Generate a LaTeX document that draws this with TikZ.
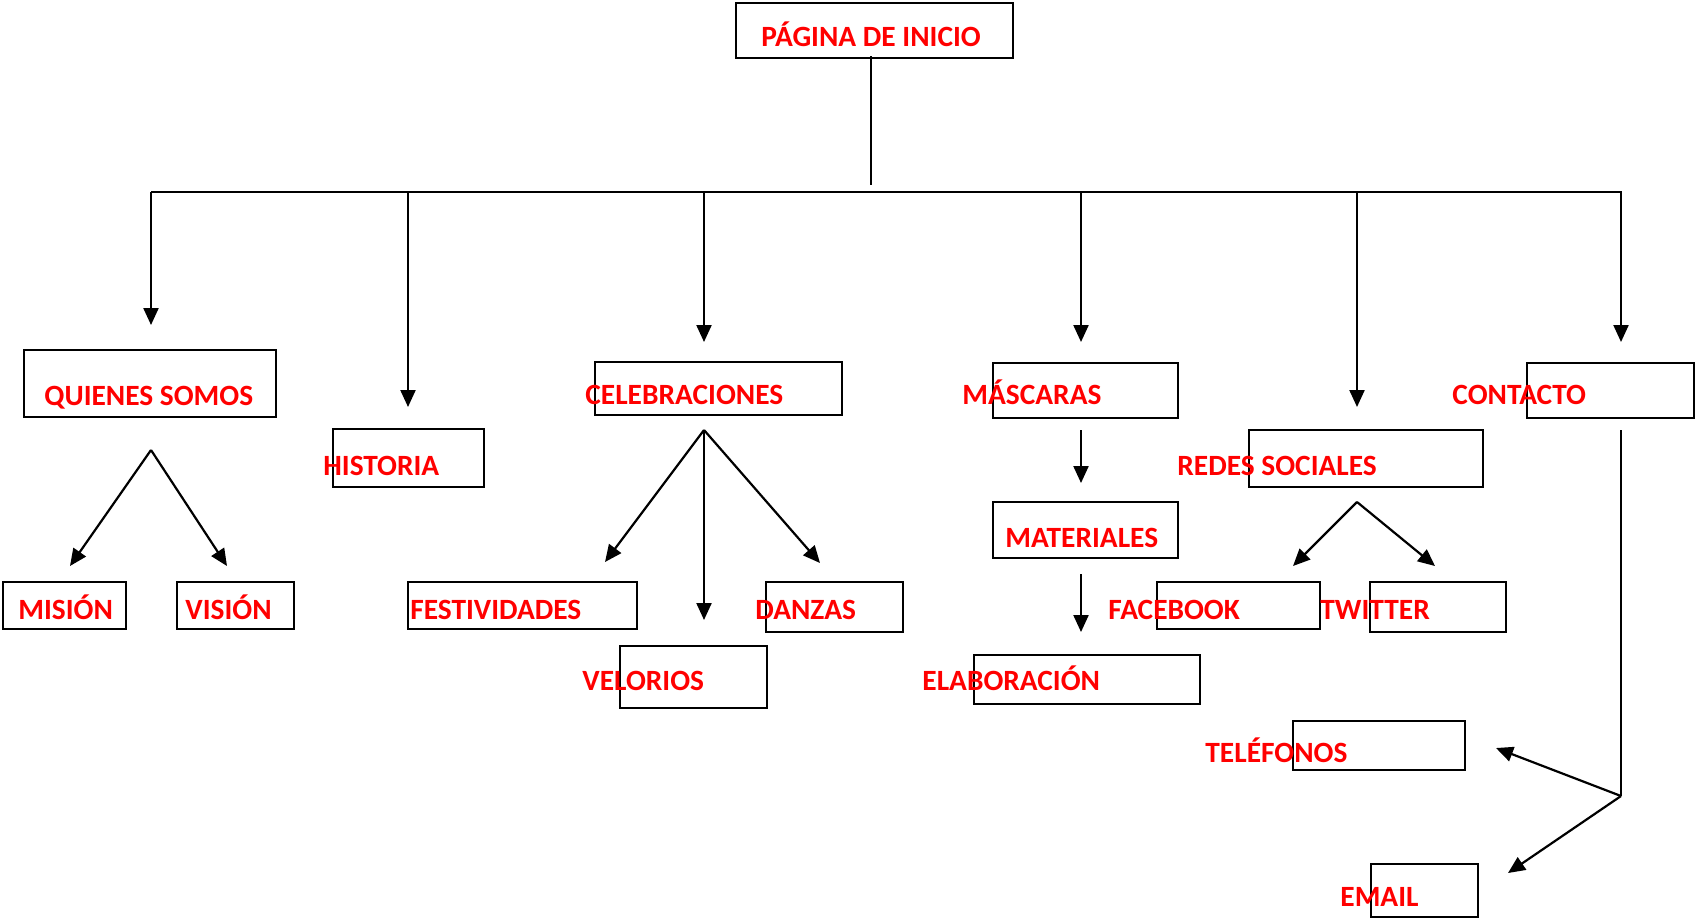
\documentclass[tikz,border=0pt]{standalone}
\usepackage{fontspec}
\setmainfont{Carlito}
\usetikzlibrary{arrows.meta,fit}
\definecolor{lblred}{RGB}{255,0,0}
\begin{document}
\begin{tikzpicture}[x=0.5pt,y=-0.5pt,
  box/.style={draw, line width=1.1pt, inner sep=0pt},
  lbl/.style={text=lblred, font=\fontsize{14.7pt}{16pt}\selectfont\bfseries, inner sep=0pt, anchor=base west},
  conn/.style={line width=1.1pt},
  arr/.style={line width=1.1pt, -{Triangle[length=8.5pt,width=7.5pt]}}]
\useasboundingbox (0,0) rectangle (1695,918);
% boxes
\node[box, fit={(736,3) (1013,58)}] (bInicio) {};
\node[box, fit={(24,350) (276,417)}] (bQuienes) {};
\node[box, fit={(333,429) (484,487)}] (bHistoria) {};
\node[box, fit={(3,582) (126,629)}] (bMision) {};
\node[box, fit={(177,582) (294,629)}] (bVision) {};
\node[box, fit={(595,362) (842,415)}] (bCeleb) {};
\node[box, fit={(408,582) (637,629)}] (bFest) {};
\node[box, fit={(766,582) (903,632)}] (bDanzas) {};
\node[box, fit={(620,646) (767,708)}] (bVelorios) {};
\node[box, fit={(993,363) (1178,418)}] (bMascaras) {};
\node[box, fit={(993,502) (1178,558)}] (bMateriales) {};
\node[box, fit={(974,655) (1200,704)}] (bElab) {};
\node[box, fit={(1249,430) (1483,487)}] (bRedes) {};
\node[box, fit={(1157,582) (1320,629)}] (bFacebook) {};
\node[box, fit={(1370,582) (1506,632)}] (bTwitter) {};
\node[box, fit={(1527,363) (1694,418)}] (bContacto) {};
\node[box, fit={(1293,721) (1465,770)}] (bTelefonos) {};
\node[box, fit={(1371,864) (1478,917)}] (bEmail) {};
% labels
\node[lbl] (tInicio) at (761,46) {PÁGINA DE INICIO};
\node[lbl] (tQuienes) at (44,405) {QUIENES SOMOS};
\node[lbl] (tHistoria) at (323,475) {HISTORIA};
\node[lbl] (tMision) at (18,619) {MISIÓN};
\node[lbl] (tVision) at (185,619) {VISIÓN};
\node[lbl] (tCeleb) at (585,404) {CELEBRACIONES};
\node[lbl] (tFest) at (410,619) {FESTIVIDADES};
\node[lbl] (tDanzas) at (755,619) {DANZAS};
\node[lbl] (tVelorios) at (582,690) {VELORIOS};
\node[lbl] (tMascaras) at (962,404) {MÁSCARAS};
\node[lbl] (tMateriales) at (1005,547) {MATERIALES};
\node[lbl] (tElab) at (922,690) {ELABORACIÓN};
\node[lbl] (tRedes) at (1177,475) {REDES SOCIALES};
\node[lbl] (tFacebook) at (1108,619) {FACEBOOK};
\node[lbl] (tTwitter) at (1320,619) {TWITTER};
\node[lbl] (tContacto) at (1452,404) {CONTACTO};
\node[lbl] (tTelefonos) at (1205,762) {TELÉFONOS};
\node[lbl] (tEmail) at (1340,906) {EMAIL};
% connector coordinates
\coordinate (cTop) at (871,56);
\coordinate (cTopEnd) at (871,185);
\coordinate (hL) at (151,192);
\coordinate (hR) at (1622,192);
\coordinate (hM1) at (871,192);
\coordinate (hM2) at (933,192);
\coordinate (d1) at (151,192);  \coordinate (e1) at (151,325);
\coordinate (d2) at (408,192);  \coordinate (e2) at (408,407);
\coordinate (d3) at (704,192);  \coordinate (e3) at (704,342);
\coordinate (d4) at (1081,192); \coordinate (e4) at (1081,342);
\coordinate (d5) at (1357,192); \coordinate (e5) at (1357,407);
\coordinate (d6) at (1621,192); \coordinate (e6) at (1621,342);
\coordinate (aQ) at (151,450); \coordinate (aQ1) at (70,566); \coordinate (aQ2) at (227,566);
\coordinate (aC) at (704,430); \coordinate (aC1) at (605,562); \coordinate (aC2) at (704,620); \coordinate (aC3) at (820,563);
\coordinate (m1) at (1081,430); \coordinate (m1e) at (1081,483);
\coordinate (m2) at (1081,574); \coordinate (m2e) at (1081,632);
\coordinate (aR) at (1357,502); \coordinate (aR1) at (1293,566); \coordinate (aR2) at (1435,566);
\coordinate (k1) at (1621,430); \coordinate (k2) at (1621,796);
\coordinate (kT) at (1496,748); \coordinate (kE) at (1508,873);
% connectors
\draw[line width=0.9pt] (cTop) -- (cTopEnd);
\draw[conn] (hL) -- (hR);
\draw[line width=1.4pt] (hM1) -- (hM2);
\draw[arr] (d1) -- (e1);
\draw[arr] (d2) -- (e2);
\draw[arr] (d3) -- (e3);
\draw[arr] (d4) -- (e4);
\draw[arr] (d5) -- (e5);
\draw[arr] (d6) -- (e6);
\draw[arr] (aQ) -- (aQ1);
\draw[arr] (aQ) -- (aQ2);
\draw[arr] (aC) -- (aC1);
\draw[arr] (aC) -- (aC2);
\draw[arr] (aC) -- (aC3);
\draw[arr] (m1) -- (m1e);
\draw[arr] (m2) -- (m2e);
\draw[arr] (aR) -- (aR1);
\draw[arr] (aR) -- (aR2);
\draw[conn] (k1) -- (k2);
\draw[arr] (k2) -- (kT);
\draw[arr] (k2) -- (kE);
\end{tikzpicture}
\end{document}
